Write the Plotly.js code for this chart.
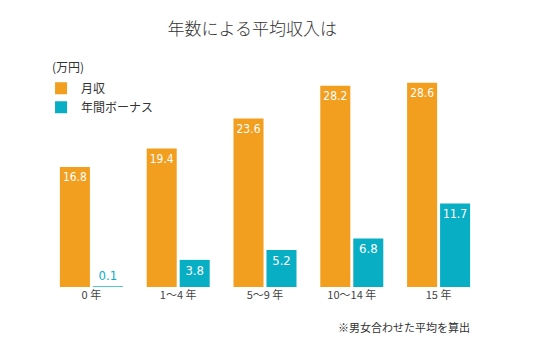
<!DOCTYPE html>
<html><head><meta charset="utf-8">
<script src="https://cdn.plot.ly/plotly-3.0.1.min.js"></script>
<style>html,body{margin:0;padding:0;background:#fff}</style>
</head><body>
<div id="chart" style="width:540px;height:358px"></div>
<script>
const categories = ["0 年", "1～4 年", "5～9 年", "10～14 年", "15 年"];
const monthly = [16.8, 19.4, 23.6, 28.2, 28.6];
const bonus = [0.1, 3.8, 5.2, 6.8, 11.7];
const seriesNames = ["月収", "年間ボーナス"];
const unitLabel = "(万円)";
const titleText = "年数による平均収入は";
const noteText = "※男女合わせた平均を算出";

const ORANGE = "#F29E1F", TEAL = "#08AEC4";
const numFont = "DejaVu Sans Condensed, Liberation Sans Narrow, sans-serif";
const jpFont = "Noto Sans CJK JP, sans-serif";

function fmt(v){ return v.toFixed(1); }
const bonusPos = bonus.map(v => v < 1 ? "outside" : "inside");
const bonusTextColor = bonus.map(v => v < 1 ? TEAL : "#ffffff");

const data = [
  {type:"bar", name:seriesNames[0], x:categories, y:monthly,
   marker:{color:ORANGE}, text:monthly.map(fmt), textposition:"inside",
   insidetextanchor:"end", textangle:0,
   textfont:{family:numFont, size:13, color:"#ffffff"}, hoverinfo:"skip"},
  {type:"bar", name:seriesNames[1], x:categories, y:bonus,
   marker:{color:TEAL}, text:bonus.map(fmt), textposition:bonusPos,
   insidetextanchor:"end", textangle:0, cliponaxis:false,
   textfont:{family:numFont, size:13, color:bonusTextColor}, hoverinfo:"skip"}
];

const layout = {
  width:540, height:358,
  margin:{l:48, r:58, t:80, b:71},
  paper_bgcolor:"#fff", plot_bgcolor:"#fff",
  barmode:"group", bargap:0.24, bargroupgap:0.09,
  font:{family:jpFont, color:"#333"},
  title:{text:titleText, x:0.467, xanchor:"center", y:0.92, yanchor:"middle",
         font:{family:jpFont, size:17, color:"#333", weight:300}},
  xaxis:{showgrid:false, zeroline:false, showline:false, ticks:"",
         tickfont:{family:jpFont, size:11, color:"#444"}, fixedrange:true},
  yaxis:{range:[0,29], showgrid:false, zeroline:false, showline:false,
         showticklabels:false, ticks:"", fixedrange:true},
  showlegend:true,
  legend:{x:-0.016, xanchor:"left", y:1.03, yanchor:"top", orientation:"v",
          font:{family:jpFont, size:12, color:"#333"}, bgcolor:"rgba(0,0,0,0)",
          traceorder:"normal", itemclick:false},
  annotations:[
    {text:unitLabel, xref:"paper", yref:"paper", x:0.005, y:1.063,
     xanchor:"left", yanchor:"middle", showarrow:false,
     font:{family:jpFont, size:12, color:"#333"}},
    {text:noteText, xref:"paper", yref:"paper", x:0.977, y:-0.193,
     xanchor:"right", yanchor:"middle", showarrow:false,
     font:{family:jpFont, size:11, color:"#333"}}
  ]
};

Plotly.newPlot("chart", data, layout, {displayModeBar:false, staticPlot:true});
</script>
</body></html>
